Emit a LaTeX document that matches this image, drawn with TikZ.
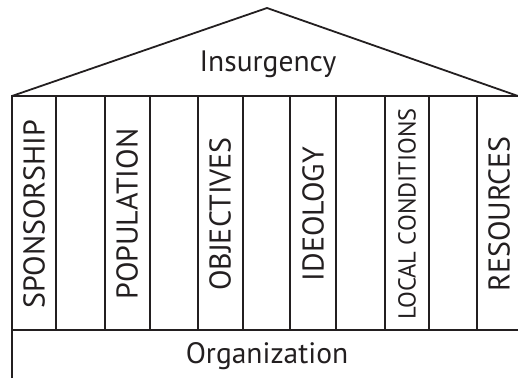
\documentclass[tikz,border=0pt]{standalone}
\usepackage{fontspec}
\setmainfont{PT Sans}
\definecolor{ink}{HTML}{231F20}
\begin{document}
\begin{tikzpicture}[x=1pt,y=-1pt,line width=1.8pt,draw=ink,
    pillar/.style={rotate=90,text=ink,font=\fontsize{30}{32}\selectfont},
    small/.style={pillar,font=\fontsize{24.5}{26}\selectfont},
    title/.style={text=ink,font=\fontsize{29.5}{31}\selectfont}]
    \useasboundingbox (0,0) rectangle (518,378);
    % roof, beam and floor
    \draw[ink] (12,96)--(267,8)--(518,96);
    \draw[ink] (12,378)--(12,96)--(518,96);
    \draw[ink] (12,330)--(518,330);
    \foreach \x in {56,105,150,198,243,290,336,385,429,477}
        \draw[ink] (\x,96)--(\x,330);
    % labels
    \node[title] (insurgency) at (268,64) {Insurgency};
    \node[pillar] (sponsorship) at (34,214) {SPONSORSHIP};
    \node[pillar] (population) at (127,214) {POPULATION};
    \node[pillar] (objectives) at (220,214) {OBJECTIVES};
    \node[pillar] (ideology) at (313,214) {IDEOLOGY};
    \node[small] (local) at (407,214) {LOCAL CONDITIONS};
    \node[pillar] (resources) at (499,214) {RESOURCES};
    \node[title] (organization) at (267,356) {Organization};
\end{tikzpicture}
\end{document}
